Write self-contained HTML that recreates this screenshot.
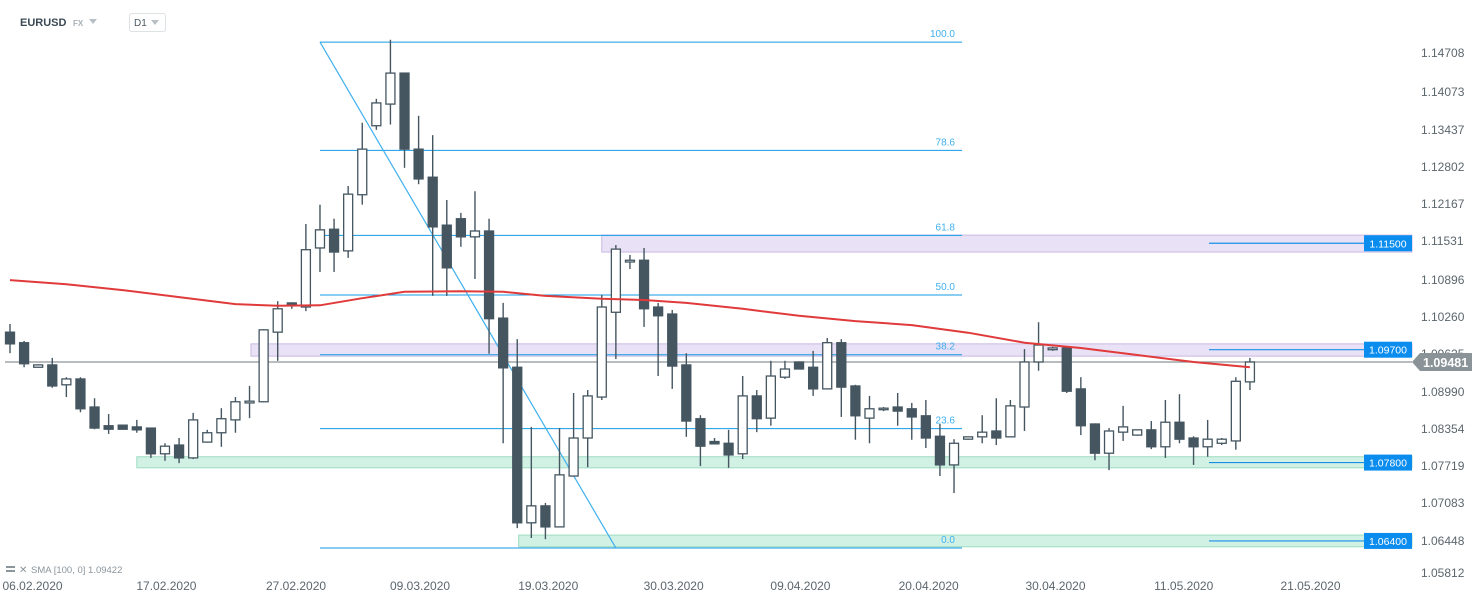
<!DOCTYPE html>
<html><head><meta charset="utf-8">
<style>
html,body{margin:0;padding:0;background:#fff;width:1482px;height:604px;overflow:hidden;font-family:"Liberation Sans",sans-serif}
svg text{font-family:"Liberation Sans",sans-serif}
</style></head>
<body>
<svg id="chart" width="1482" height="604" viewBox="0 0 1482 604" xmlns="http://www.w3.org/2000/svg">
  <g>
    <text x="20" y="26" font-size="11" font-weight="bold" fill="#3b4a55">EURUSD</text>
    <text x="73" y="26" font-size="8" font-weight="bold" fill="#a7b0b6">FX</text>
    <path d="M89 19 L97 19 L93 24 Z" fill="#b8c0c5"/>
    <rect x="129.5" y="13.5" width="36" height="18" rx="2" fill="#fff" stroke="#dde2e5"/>
    <text x="134" y="26" font-size="10" fill="#4a5861">D1</text>
    <path d="M151 20 L159 20 L155 25 Z" fill="#b8c0c5"/>
  </g>
  <g id="zones"></g>
  <g id="fib"></g>
  <g id="candles"></g>
  <g id="overlay"></g>
  <g id="axes"></g>
  <g>
    <rect x="6" y="566" width="9" height="2" fill="#8a959c"/>
    <rect x="6" y="570" width="9" height="2" fill="#8a959c"/>
    <text x="19" y="573" font-size="10" fill="#8a959c">✕</text>
    <text x="31" y="573" font-size="9.5" fill="#8a959c">SMA [100, 0]  1.09422</text>
  </g>
</svg>
<script>
// ---- data ----
const opens  = [1.0993,1.0975,1.0933,1.0937,1.0903,1.0913,1.0865,1.0833,1.0834,1.0831,1.0829,1.0785,1.0800,1.0778,1.0805,1.0821,1.0843,1.0872,1.0874,1.0993,1.1043,1.1036,1.1137,1.1169,1.1132,1.1228,1.1346,1.1383,1.1436,1.1306,1.1258,1.1176,1.1187,1.1156,1.1166,1.1017,1.0933,1.0667,1.0696,1.0660,1.0747,1.0812,1.0882,1.1027,1.1113,1.1116,1.1036,1.1024,1.0937,1.0845,1.0806,1.0803,1.0785,1.0884,1.0846,1.0916,1.0942,1.0933,1.0896,1.0975,1.0901,1.0846,1.0862,1.0865,1.0862,1.0850,1.0815,1.0766,1.0810,1.0814,1.0824,1.0814,1.0865,1.0942,1.0963,1.0966,1.0896,1.0836,1.0786,1.0822,1.0817,1.0826,1.0797,1.0839,1.0812,1.0797,1.0803,1.0807,1.0908];
const highs  = [1.1007,1.0978,1.0938,1.0949,1.0916,1.0916,1.0880,1.0853,1.0835,1.0843,1.0830,1.0803,1.0812,1.0855,1.0826,1.0863,1.0882,1.0901,1.0998,1.1046,1.1044,1.1178,1.1211,1.1187,1.1243,1.1351,1.1392,1.1493,1.1437,1.1363,1.1330,1.1219,1.1197,1.1234,1.1187,1.1043,1.0981,1.0831,1.0701,1.0829,1.0889,1.0894,1.1057,1.1142,1.1125,1.1137,1.1043,1.1031,1.0957,1.0851,1.0812,1.0826,1.0918,1.0894,1.0944,1.0944,1.0943,1.0961,1.0983,1.0981,1.0903,1.0884,1.0865,1.0889,1.0872,1.0877,1.0836,1.0810,1.0814,1.0851,1.0880,1.0877,1.0964,1.1010,1.0968,1.0967,1.0916,1.0837,1.0829,1.0867,1.0826,1.0841,1.0877,1.0887,1.0815,1.0843,1.0812,1.0916,1.0949];
const lows   = [1.0957,1.0933,1.0932,1.0898,1.0882,1.0856,1.0827,1.0819,1.0826,1.0821,1.0778,1.0773,1.0769,1.0776,1.0804,1.0797,1.0821,1.0846,1.0873,1.0944,1.1033,1.1029,1.1096,1.1096,1.1120,1.1211,1.1339,1.1348,1.1274,1.1246,1.1055,1.1055,1.1139,1.1084,1.0956,1.0803,1.0658,1.0641,1.0639,1.0659,1.0746,1.0762,1.0877,1.0947,1.1101,1.1002,1.0918,1.0896,1.0814,1.0764,1.0802,1.0761,1.0776,1.0822,1.0833,1.0913,1.0930,1.0884,1.0895,1.0848,1.0809,1.0803,1.0858,1.0833,1.0809,1.0795,1.0747,1.0718,1.0809,1.0803,1.0800,1.0813,1.0824,1.0927,1.0961,1.0889,1.0817,1.0774,1.0757,1.0807,1.0816,1.0793,1.0778,1.0803,1.0766,1.0780,1.0800,1.0792,1.0894];
const closes = [1.0973,1.0939,1.0937,1.0901,1.0913,1.0862,1.0829,1.0827,1.0827,1.0826,1.0785,1.0798,1.0778,1.0843,1.0821,1.0845,1.0874,1.0875,1.0997,1.1033,1.1038,1.1134,1.1168,1.1130,1.1229,1.1306,1.1385,1.1436,1.1306,1.1255,1.1173,1.1103,1.1156,1.1166,1.1016,1.0932,1.0667,1.0696,1.0660,1.0749,1.0812,1.0884,1.1036,1.1135,1.1116,1.1033,1.1021,1.0935,1.0841,1.0798,1.0802,1.0783,1.0884,1.0845,1.0918,1.0930,1.0930,1.0896,1.0975,1.0899,1.0850,1.0862,1.0863,1.0858,1.0848,1.0812,1.0766,1.0803,1.0814,1.0822,1.0812,1.0867,1.0942,1.0971,1.0966,1.0892,1.0833,1.0786,1.0824,1.0831,1.0826,1.0797,1.0839,1.0810,1.0797,1.0810,1.0810,1.0909,1.0942];
const smaIdx = [0,4,8,12,16,19,22,25,28,32,35,38,42,45,48,52,56,60,64,68,72,76,80,84,88];
const smaVal = [1.1082,1.1075,1.1065,1.1053,1.1041,1.1038,1.1039,1.1051,1.1062,1.1063,1.1062,1.1055,1.1050,1.1048,1.1043,1.1033,1.1021,1.1012,1.1005,1.0992,1.0975,1.0966,1.0954,1.0942,1.0933];
const yTicks = ["1.14708","1.14073","1.13437","1.12802","1.12167","1.11531","1.10896","1.10260","1.09625","1.08990","1.08354","1.07719","1.07083","1.06448","1.05812"];
const tickVals = [1.1470,1.1404,1.1339,1.1275,1.1212,1.1149,1.1082,1.1019,1.0956,1.0891,1.0827,1.0764,1.0701,1.0636,1.0581];
const xLabels = ["06.02.2020","17.02.2020","27.02.2020","09.03.2020","19.03.2020","30.03.2020","09.04.2020","20.04.2020","30.04.2020","11.05.2020","21.05.2020"];
const xLabelIdx = [1.6,11.1,20.3,29.1,38.2,47.1,56.1,65.2,74.2,83.3,92.3];
const zoneStartIdx = [42.0,17.1,9.0,36.1];
const zoneTop = [1.1159,1.0973,1.0780,1.0646];
const zoneBot = [1.1130,1.0952,1.0761,1.0626];
const zoneColor = ["purple","purple","green","green"];
const levelLabels = ["1.11500","1.09700","1.07800","1.06400"];
const levelVals = [1.1145,1.0963,1.0770,1.0636];
const fibHigh = 1.1489, fibLow = 1.0624;
const fibRatios = [1.0,0.786,0.618,0.5,0.382,0.236,0.0];
const fibNames = ["100.0","78.6","61.8","50.0","38.2","23.6","0.0"];
const lastPrice = 1.0942, lastLabel = "1.09481";

// ---- scales ----
const X = i => 10 + i*14.09;
const Y = p => 400 - (p - 1.0877)*5848;
const NS = "http://www.w3.org/2000/svg";
function mk(tag, attrs, parent){const e=document.createElementNS(NS,tag);for(const k in attrs)e.setAttribute(k,attrs[k]);parent.appendChild(e);return e;}

const gZ=document.getElementById('zones'), gF=document.getElementById('fib'), gC=document.getElementById('candles'), gO=document.getElementById('overlay'), gA=document.getElementById('axes');

zoneTop.forEach((t,i)=>{
  const purple = zoneColor[i]==="purple";
  const r=mk('rect',{x:X(zoneStartIdx[i]),y:Y(t),width:1412-X(zoneStartIdx[i]),height:Y(zoneBot[i])-Y(t),fill:purple?"rgba(200,180,230,0.4)":"rgba(150,225,195,0.45)",stroke:purple?"#c9b9e2":"#9fdcc2","stroke-width":1},gZ);
  
  
});

const fx1=X(22.0), fx2=962;
fibRatios.forEach((r,i)=>{
  const p=fibLow+(fibHigh-fibLow)*r, y=Y(p);
  const l=mk('line',{x1:fx1,x2:fx2,y1:y,y2:y,stroke:"#139be6","stroke-width":1},gF);
  
  
  const t=mk('text',{x:955,y:y-5,"font-size":10,fill:"#3fb0ee","text-anchor":"end"},gF);
  t.textContent=fibNames[i];
  
  
});
const diag=mk('line',{x1:fx1,y1:Y(fibHigh),x2:X(43.0),y2:Y(fibLow),stroke:"#3fb0ee","stroke-width":1.2},gF);



const pl=mk('line',{x1:5,x2:1412,y1:Y(lastPrice),y2:Y(lastPrice),stroke:"#8d9599","stroke-width":1.2},gC);



opens.forEach((o,i)=>{
  const c=closes[i], x=X(i), up=c>=o;
  const g=mk('g',{},gC);
  
  
  mk('line',{x1:x,x2:x,y1:Y(highs[i]),y2:Y(lows[i]),stroke:"#455661","stroke-width":1.4},g);
  const top=Y(Math.max(o,c)), h=Math.max(1.5,Math.abs(Y(o)-Y(c)));
  mk('rect',{x:x-4.5,y:top,width:9,height:h,fill:up?"#ffffff":"#455661",stroke:"#455661","stroke-width":1.3},g);
});

const d=smaIdx.map((k,i)=>(i?"L":"M")+X(k).toFixed(1)+" "+Y(smaVal[i]).toFixed(1)).join(" ");
const sma=mk('path',{d:d,fill:"none",stroke:"#e03a3a","stroke-width":2,"stroke-linejoin":"round"},gO);



levelVals.forEach((v,i)=>{
  const y=Y(v);
  const ln=mk('line',{x1:1209,x2:1364,y1:y,y2:y,stroke:"#1a8fe8","stroke-width":1.2},gO);
  
  
  const r=mk('rect',{x:1364,y:y-8,width:48,height:16,fill:"#0b8df0"},gO);
  
  
  const t=mk('text',{x:1388,y:y+4,"font-size":10.5,fill:"#fff","text-anchor":"middle"},gO);
  t.textContent=levelLabels[i];
  
  
});

yTicks.forEach((s,i)=>{
  let y=Y(tickVals[i]); if(y>575) y=575;
  const t=mk('text',{x:1421,y:y+4,"font-size":12,fill:"#5b666d"},gA);
  t.textContent=s;
  
  
});
const ly=Y(lastPrice);
const tag=mk('path',{d:`M1412 ${ly} L1420 ${ly-9} L1472 ${ly-9} L1472 ${ly+9} L1420 ${ly+9} Z`,fill:"#8a9397"},gA);


const lt=mk('text',{x:1423,y:ly+5,"font-size":12.5,"font-weight":"bold",fill:"#fff"},gA);
lt.textContent=lastLabel;



xLabels.forEach((s,i)=>{
  const t=mk('text',{x:X(xLabelIdx[i]),y:590,"font-size":12,fill:"#5b666d","text-anchor":"middle"},gA);
  t.textContent=s;
  
  
});
</script>
</body></html>
